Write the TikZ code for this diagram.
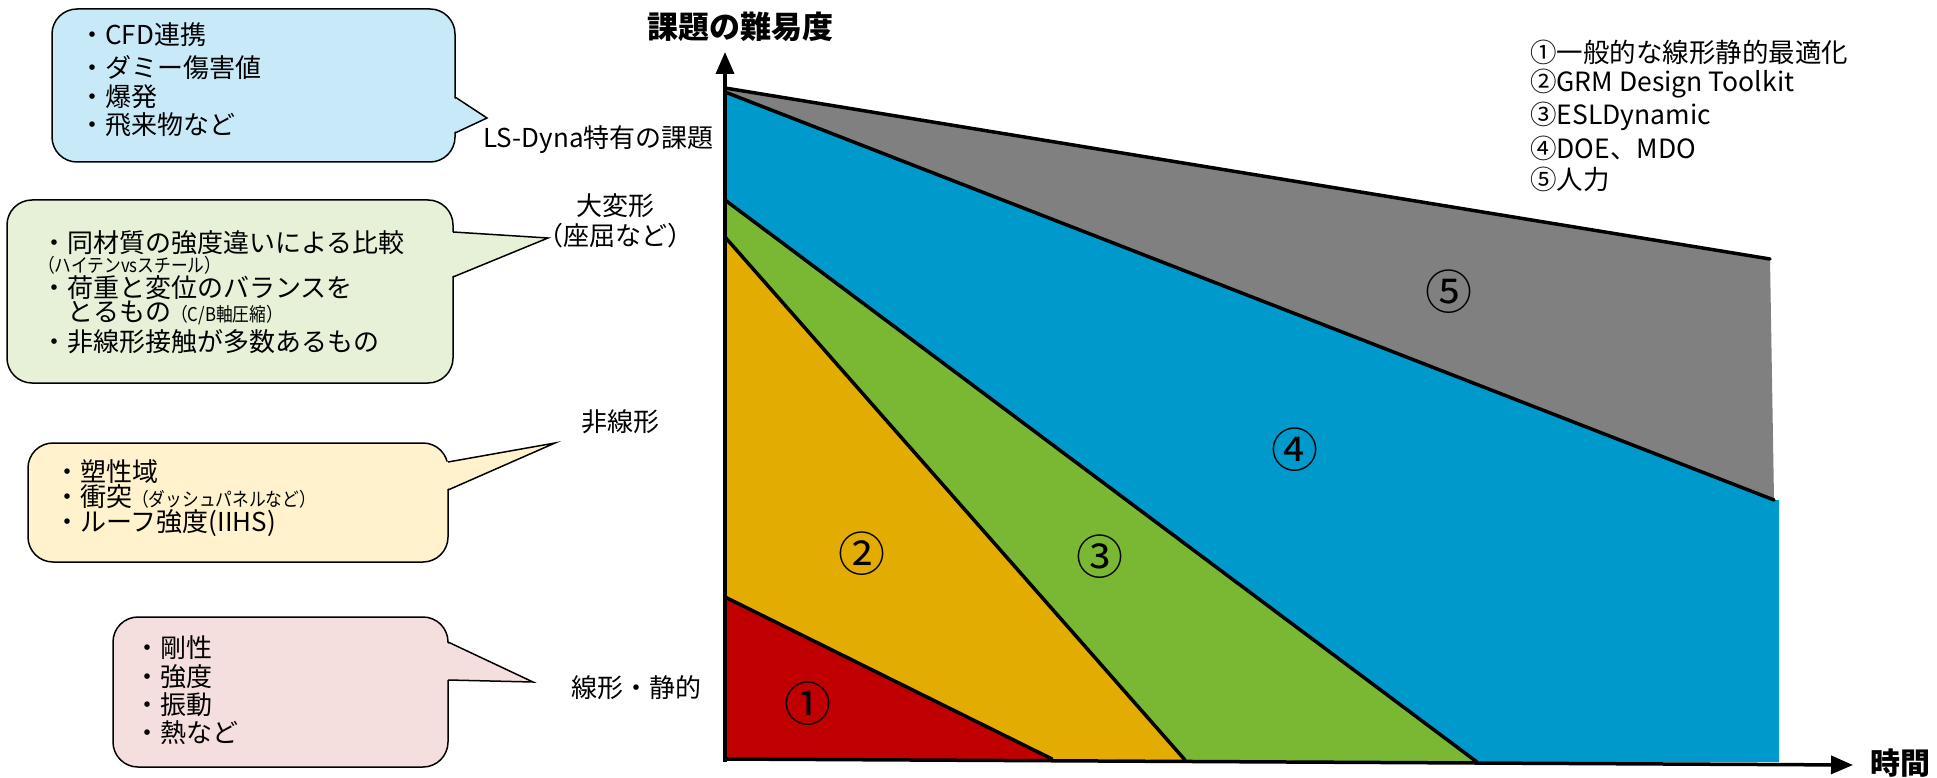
\documentclass[tikz,border=0pt]{standalone}
\usepackage{fontspec}
\setmainfont{Noto Sans CJK JP}
\newfontfamily\jpn{Noto Sans CJK JP}[FakeStretch=0.88]
\usetikzlibrary{arrows.meta}
\definecolor{cRed}{HTML}{C00000}
\definecolor{cYel}{HTML}{E2AC00}
\definecolor{cGrn}{HTML}{7AB833}
\definecolor{cBlu}{HTML}{0099CC}
\definecolor{cGry}{HTML}{808080}
\definecolor{bBlu}{HTML}{C8EAF8}
\definecolor{bGrn}{HTML}{E6F1D8}
\definecolor{bYel}{HTML}{FFF2CC}
\definecolor{bPnk}{HTML}{F4DEDE}
\newcommand{\smtxt}[1]{{\jpn\fontsize{19}{21}\selectfont #1}}
\begin{document}
\begin{tikzpicture}[x=1pt,y=-1pt,
  lab/.style={inner sep=0pt, font=\fontsize{26}{30}\selectfont},
  ctext/.style={inner sep=0pt, anchor=west, font=\fontsize{26}{30}\selectfont},
  bubble/.style={draw=black, line width=1.5pt, rounded corners=25pt, inner sep=0pt},
  ptr/.style={line width=1.5pt, line join=miter},
  num/.style={inner sep=0pt, font=\fontsize{47}{50}\selectfont},
  bound/.style={line width=3.5pt, line join=round, line cap=round},
  axisline/.style={line width=3.5pt, -{Triangle[length=22pt,width=18pt]}},
  legend/.style={inner sep=0pt, anchor=west, font=\fontsize{26.5}{32}\selectfont}]
\useasboundingbox (0,0) rectangle (1937,778);

% ---------- key points of the chart ----------
\coordinate (A) at (725,88);
\coordinate (B) at (1770,259);
\coordinate (C) at (1774,500);
\coordinate (D) at (725,92);
\coordinate (BR) at (1779,500);
\coordinate (BB) at (1779,762);
\coordinate (E) at (725,200);
\coordinate (F) at (1477,762);
\coordinate (G) at (725,237);
\coordinate (H) at (1185,760);
\coordinate (I) at (725,597);
\coordinate (J) at (1052,759);
\coordinate (O) at (725,759);

% ---------- filled regions ----------
\fill[cGry] (A) -- (B) -- (C) -- (D) -- cycle;
\fill[cBlu] (D) -- (C) -- (BR) -- (BB) -- (F) -- (E) -- cycle;
\fill[cGrn] (E) -- (F) -- (H) -- (G) -- cycle;
\fill[cYel] (G) -- (H) -- (J) -- (I) -- cycle;
\fill[cRed] (I) -- (J) -- (O) -- cycle;

% ---------- boundary lines ----------
\draw[bound] (A) -- (B);
\draw[bound] (D) -- (C);
\draw[bound] (E) -- (F);
\draw[bound] (G) -- (H);
\draw[bound] (I) -- (J);

% ---------- axes ----------
\coordinate (O2) at (725,762);
\coordinate (Ytip) at (725,52);
\coordinate (O3) at (723,759);
\coordinate (Xtip) at (1853,765);
\draw[axisline] (O2) -- (Ytip);
\draw[axisline] (O3) -- (Xtip);
\node[inner sep=0pt, font=\fontsize{31}{34}\selectfont\bfseries] (ytitle) at (740,27) {課題の難易度};
\node[inner sep=0pt, font=\fontsize{30}{34}\selectfont\bfseries] (xtitle) at (1900,763) {時間};

% ---------- circled numbers ----------
\node[num] (n1) at (808,704) {①};
\node[num] (n2) at (862,554) {②};
\node[num] (n3) at (1100,557) {③};
\node[num] (n4) at (1295,450) {④};
\node[num] (n5) at (1449,292) {⑤};

% ---------- legend ----------
\node[legend] (g1) at (1530,52) {①一般的な線形静的最適化};
\node[legend] (g2) at (1530,84) {②GRM Design Toolkit};
\node[legend] (g3) at (1530,116) {③ESLDynamic};
\node[legend] (g4) at (1530,148) {④DOE、MDO};
\node[legend] (g5) at (1530,179) {⑤人力};

% ---------- axis labels ----------
\node[lab, anchor=east] (l1) at (714,140) {LS-Dyna特有の課題};
\node[lab] (l2) at (615,206) {大変形};
\node[lab] (l2b) at (615,236) {（座屈など）};
\node[lab] (l3) at (620,422) {非線形};
\node[lab] (l4) at (636,688) {線形・静的};

% ---------- callout 1 (blue) ----------
\node[bubble, fill=bBlu, minimum width=403pt, minimum height=153pt] (bx1) at (253.5,85.5) {};
\coordinate (p1a) at (455,97);
\coordinate (p1t) at (487,118);
\coordinate (p1b) at (455,133);
\fill[bBlu] ([xshift=-3pt]p1a) -- (p1t) -- ([xshift=-3pt]p1b) -- cycle;
\draw[ptr] (p1a) -- (p1t) -- (p1b);
\node[ctext] (t11) at (79,35) {・CFD連携};
\node[ctext] (t12) at (79,68) {・ダミー傷害値};
\node[ctext] (t13) at (79,97) {・爆発};
\node[ctext] (t14) at (79,125) {・飛来物など};

% ---------- callout 2 (green) ----------
\node[bubble, fill=bGrn, minimum width=446pt, minimum height=183pt] (bx2) at (230,291.5) {};
\coordinate (p2a) at (453,232);
\coordinate (p2t) at (548,238);
\coordinate (p2b) at (453,277);
\fill[bGrn] ([xshift=-3pt]p2a) -- (p2t) -- ([xshift=-3pt]p2b) -- cycle;
\draw[ptr] (p2a) -- (p2t) -- (p2b);
\node[ctext] (t21) at (41,243) {・同材質の強度違いによる比較};
\node[ctext] (t22) at (38,265) {\smtxt{（ハイテンvsスチール）}};
\node[ctext] (t23) at (41,288) {・荷重と変位のバランスを};
\node[ctext] (t24) at (67,313) {とるもの\smtxt{（C/B軸圧縮）}};
\node[ctext] (t25) at (41,342) {・非線形接触が多数あるもの};

% ---------- callout 3 (yellow) ----------
\node[bubble, fill=bYel, minimum width=420pt, minimum height=119pt] (bx3) at (238,502.5) {};
\coordinate (p3a) at (448,462);
\coordinate (p3t) at (555,443);
\coordinate (p3b) at (448,490);
\fill[bYel] ([xshift=-3pt]p3a) -- (p3t) -- ([xshift=-3pt]p3b) -- cycle;
\draw[ptr] (p3a) -- (p3t) -- (p3b);
\node[ctext] (t31) at (54,472) {・塑性域};
\node[ctext] (t32) at (54,497) {・衝突\smtxt{（ダッシュパネルなど）}};
\node[ctext] (t33) at (54,523) {・ルーフ強度(IIHS)};

% ---------- callout 4 (pink) ----------
\node[bubble, fill=bPnk, minimum width=335pt, minimum height=150pt] (bx4) at (280.5,692) {};
\coordinate (p4a) at (448,642);
\coordinate (p4t) at (533,682);
\coordinate (p4b) at (448,680);
\fill[bPnk] ([xshift=-3pt]p4a) -- (p4t) -- ([xshift=-3pt]p4b) -- cycle;
\draw[ptr] (p4a) -- (p4t) -- (p4b);
\node[ctext] (t41) at (134,648) {・剛性};
\node[ctext] (t42) at (134,677) {・強度};
\node[ctext] (t43) at (134,705) {・振動};
\node[ctext] (t44) at (134,733) {・熱など};
\end{tikzpicture}
\end{document}
